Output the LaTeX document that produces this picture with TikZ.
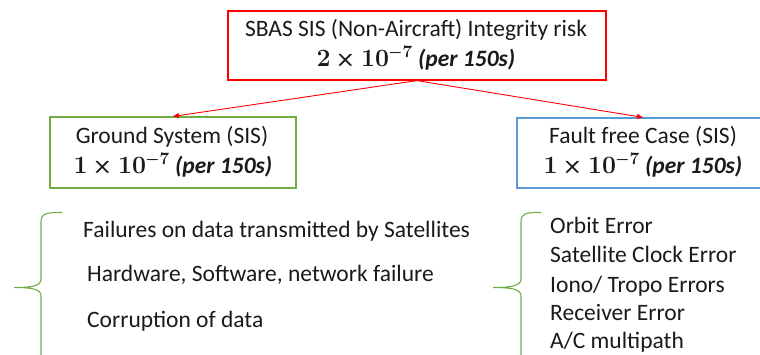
\documentclass[tikz,border=0pt]{standalone}
\usepackage{amsmath}
\usepackage[no-math]{fontspec}
\setmainfont{Carlito}
\usetikzlibrary{arrows.meta}
\definecolor{boxred}{HTML}{FF0000}
\definecolor{boxgreen}{HTML}{70AD47}
\definecolor{boxblue}{HTML}{5B9BD5}
\definecolor{txt}{HTML}{1A1A1A}
\newcommand{\riskval}[1]{$\mathbf{#1}\mathbin{\pmb{\times}}\mathbf{10}^{\pmb{-}\mathbf{7}}$}
\begin{document}
\begin{tikzpicture}[x=1pt,y=-1pt,
  box/.style={draw,line width=1.2pt,minimum width=#1,inner sep=0pt,minimum height=70pt},
  txtline/.style={anchor=base,inner sep=0pt,text=txt,text height=17pt,text depth=5pt,font=\fontsize{23.5}{28}\selectfont},
  item/.style={anchor=base west,inner sep=0pt,text=txt,text height=17pt,text depth=5pt,font=\fontsize{23.5}{28}\selectfont},
  conn/.style={draw=boxred,line width=0.9pt,-{Triangle[length=6pt,width=5pt]}},
  brace/.style={draw=boxgreen,line width=1.1pt}]
\useasboundingbox (0,0) rectangle (760,355);
\clip (0,0) rectangle (760,355);
% boxes
\node[box=378pt,draw=boxred,minimum height=69pt] (top) at (417,45.5) {};
\node[box=246pt,draw=boxgreen,minimum height=71pt] (ground) at (173,152.5) {};
\node[box=252pt,draw=boxblue,minimum height=70pt] (fault) at (643,153) {};
% texts
\node[txtline] (t1) at (416,37) {SBAS SIS (Non-Aircraft) Integrity risk};
\node[txtline] (t2) at (416,67) {\riskval{2} \textbf{\textit{(per 150s)}}};
\node[txtline] (g1) at (172,144) {Ground System (SIS)};
\node[txtline] (g2) at (173,174) {\riskval{1} \textbf{\textit{(per 150s)}}};
\node[txtline] (f1) at (643,144) {Fault free Case (SIS)};
\node[txtline] (f2) at (643,174) {\riskval{1} \textbf{\textit{(per 150s)}}};
% connectors
\draw[conn] (top.south) -- (ground.north);
\draw[conn] (top.south) -- (fault.north);
% left list
\node[item] (l1) at (83,238) {Failures on data transmitted by Satellites};
\node[item] (l2) at (87,282) {Hardware, Software, network failure};
\node[item] (l3) at (87,327) {Corruption of data};
% right list
\node[item] (r1) at (550,234) {Orbit Error};
\node[item] (r2) at (550,263) {Satellite Clock Error};
\node[item] (r3) at (550,292) {Iono/ Tropo Errors};
\node[item] (r4) at (550,320) {Receiver Error};
\node[item] (r5) at (550,348) {A/C multipath};
% braces
\coordinate (lbtop) at (62,212.5);
\coordinate (lbtip) at (14,287.5);
\coordinate (lbbot) at (41,362);
\draw[brace] (lbtop) .. controls (47,212.5) and (41,213) .. (41,222) -- (41,279)
  .. controls (41,286) and (32,287.5) .. (lbtip)
  .. controls (32,287.5) and (41,289) .. (41,296) -- (lbbot);
\coordinate (rbtop) at (541,212.5);
\coordinate (rbtip) at (493,287.5);
\coordinate (rbbot) at (521,362);
\draw[brace] (rbtop) .. controls (526,212.5) and (521,213) .. (521,222) -- (521,279)
  .. controls (521,286) and (511,287.5) .. (rbtip)
  .. controls (511,287.5) and (521,289) .. (521,296) -- (rbbot);
\end{tikzpicture}
\end{document}
